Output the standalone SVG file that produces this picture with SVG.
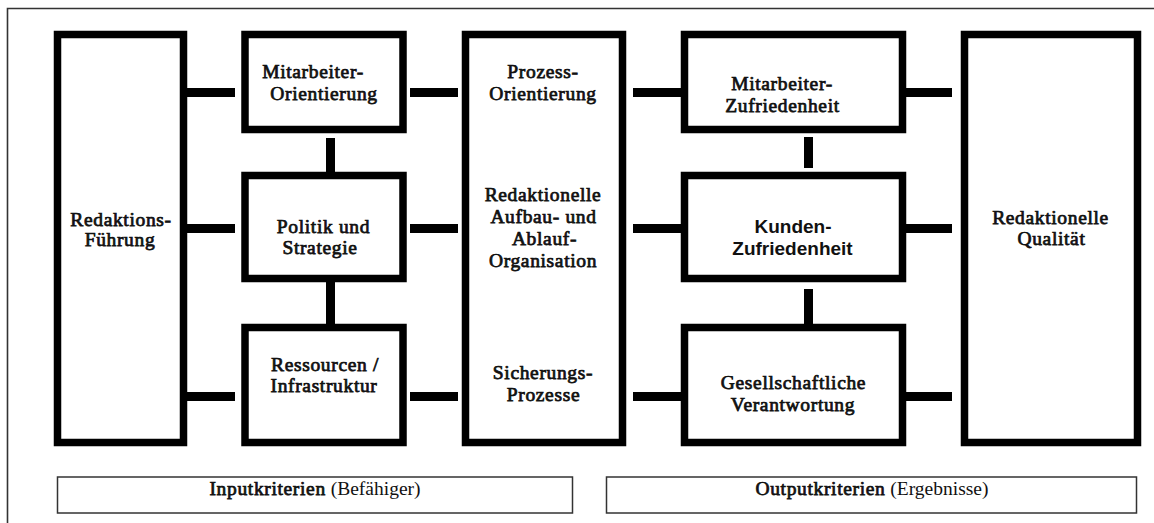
<svg xmlns="http://www.w3.org/2000/svg" width="1154" height="523" viewBox="0 0 1154 523">
  <style>
    .box { fill: #ffffff; stroke: #000000; stroke-width: 7.5; }
    .lbl { fill: #ffffff; stroke: #333333; stroke-width: 1.5; }
    .link { fill: #000000; }
    /* serif labels: regular face thickened with a thin outline */
    text { font-family: "Liberation Serif", "Times New Roman", serif; font-size: 19.5px; font-weight: 400; fill: #111111; stroke: #111111; stroke-width: 0.75; letter-spacing: 0.65px; text-anchor: middle; }
    text.sans { font-family: "Liberation Sans", Arial, sans-serif; font-size: 19px; font-weight: 700; stroke: none; letter-spacing: 0; }
    tspan.plain { stroke: none; letter-spacing: 0; }
  </style>
  <rect x="0" y="0" width="1154" height="523" fill="#ffffff"/>
  <!-- page frame (top and left edges) -->
  <path d="M7.5,523 V8.5 H1154" fill="none" stroke="#333333" stroke-width="1.6"/>

  <!-- connectors -->
  <g id="connectors">
    <!-- leadership to enablers -->
    <rect class="link" x="187" y="88" width="48" height="9"/>
    <rect class="link" x="187" y="224" width="48" height="9"/>
    <rect class="link" x="187" y="392" width="48" height="9"/>
    <!-- enablers stacked -->
    <rect class="link" x="326" y="138" width="9" height="34"/>
    <rect class="link" x="326" y="282" width="9" height="42"/>
    <!-- enablers to processes -->
    <rect class="link" x="410" y="88" width="48" height="9"/>
    <rect class="link" x="410" y="224" width="48" height="9"/>
    <rect class="link" x="410" y="392" width="48" height="9"/>
    <!-- processes to results -->
    <rect class="link" x="633" y="88" width="48" height="9"/>
    <rect class="link" x="633" y="224" width="48" height="9"/>
    <rect class="link" x="633" y="392" width="48" height="9"/>
    <!-- results stacked -->
    <rect class="link" x="804" y="137" width="9" height="31"/>
    <rect class="link" x="804" y="289" width="9" height="46"/>
    <!-- results to quality -->
    <rect class="link" x="906" y="88" width="46" height="9"/>
    <rect class="link" x="906" y="224" width="46" height="9"/>
    <rect class="link" x="906" y="392" width="46" height="9"/>
  </g>

  <g id="redaktions-fuehrung">
    <rect class="box" x="57.5" y="34.5" width="126" height="408"/>
    <text x="121" y="226">Redaktions-</text>
    <text x="120" y="246">Führung</text>
  </g>

  <g id="mitarbeiter-orientierung">
    <rect class="box" x="245" y="34.5" width="158" height="95"/>
    <text x="313" y="78">Mitarbeiter-</text>
    <text x="324" y="100">Orientierung</text>
  </g>

  <g id="politik-strategie">
    <rect class="box" x="245" y="175.5" width="158" height="103"/>
    <text x="323.5" y="233">Politik und</text>
    <text x="320" y="254">Strategie</text>
  </g>

  <g id="ressourcen-infrastruktur">
    <rect class="box" x="245" y="327.5" width="158" height="115"/>
    <text x="325" y="371">Ressourcen /</text>
    <text x="324" y="392">Infrastruktur</text>
  </g>

  <g id="prozesse">
    <rect class="box" x="465.5" y="34.5" width="157" height="408"/>
    <text x="543" y="78">Prozess-</text>
    <text x="543" y="100">Orientierung</text>
    <text x="543" y="201">Redaktionelle</text>
    <text x="543.5" y="223">Aufbau- und</text>
    <text x="544.5" y="245">Ablauf-</text>
    <text x="543" y="267">Organisation</text>
    <text x="543" y="379">Sicherungs-</text>
    <text x="543.5" y="401">Prozesse</text>
  </g>

  <g id="mitarbeiter-zufriedenheit">
    <rect class="box" x="684.5" y="34.5" width="218" height="95"/>
    <text x="782" y="90">Mitarbeiter-</text>
    <text x="782.5" y="112">Zufriedenheit</text>
  </g>

  <g id="kunden-zufriedenheit">
    <rect class="box" x="684.5" y="175.5" width="218" height="103"/>
    <text class="sans" x="793" y="233">Kunden-</text>
    <text class="sans" x="792.5" y="255">Zufriedenheit</text>
  </g>

  <g id="gesellschaftliche-verantwortung">
    <rect class="box" x="684.5" y="327.5" width="218" height="115"/>
    <text x="793.5" y="389">Gesellschaftliche</text>
    <text x="793" y="411">Verantwortung</text>
  </g>

  <g id="redaktionelle-qualitaet">
    <rect class="box" x="964.5" y="34.5" width="173" height="408"/>
    <text x="1050.5" y="224">Redaktionelle</text>
    <text x="1051.5" y="245">Qualität</text>
  </g>

  <g id="inputkriterien">
    <rect class="lbl" x="57.5" y="477" width="515" height="36"/>
    <text x="315" y="495">Inputkriterien<tspan class="plain"> (Befähiger)</tspan></text>
  </g>

  <g id="outputkriterien">
    <rect class="lbl" x="606.5" y="477" width="530" height="36"/>
    <text x="872" y="495">Outputkriterien<tspan class="plain"> (Ergebnisse)</tspan></text>
  </g>
</svg>
